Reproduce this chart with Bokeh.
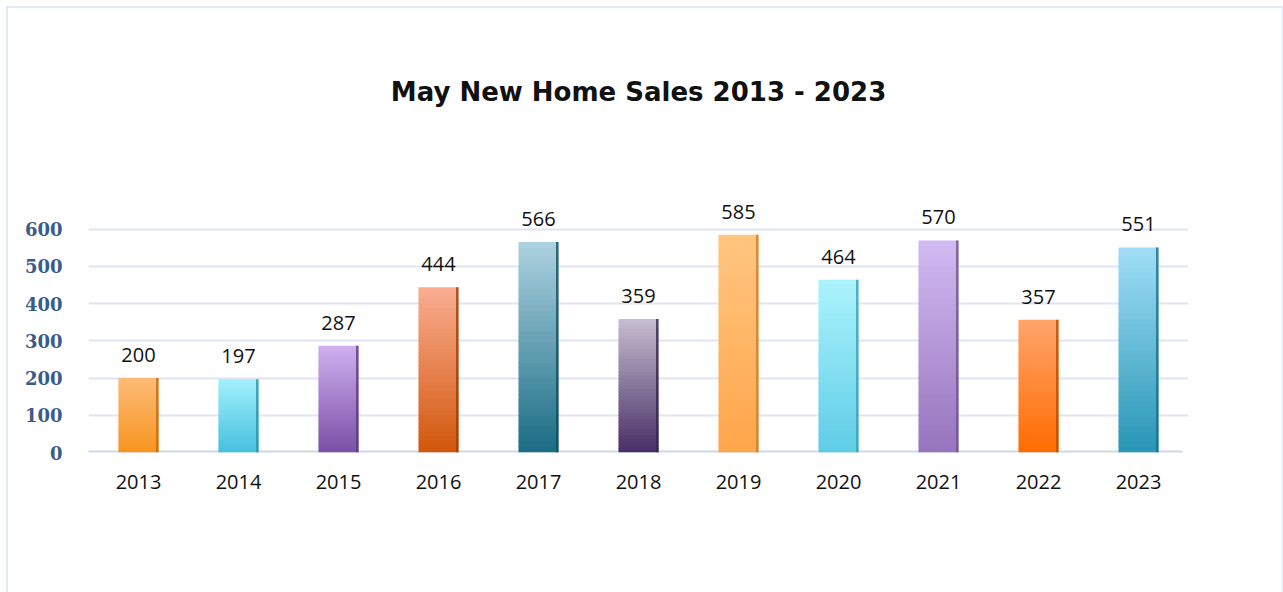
from bokeh.plotting import figure
from bokeh.embed import file_html
from bokeh.resources import INLINE
from bokeh.models import Range1d, FixedTicker, ColumnDataSource, Title
from bokeh.core.properties import value

# ---- data ----
years = ["2013", "2014", "2015", "2016", "2017", "2018", "2019", "2020", "2021", "2022", "2023"]
sales = [200, 197, 287, 444, 566, 359, 585, 464, 570, 357, 551]
y_ticks = [0, 100, 200, 300, 400, 500, 600]
title_text = "May New Home Sales 2013 - 2023"

# gradient colours per bar (top, bottom, right edge)
top_colors = ["#fdbb78", "#a2f0fc", "#cfb0f0", "#faad92", "#aed2e0", "#c6bed0",
              "#ffc580", "#acf3fd", "#d2baf2", "#ffa46c", "#a0def6"]
bottom_colors = ["#f8951f", "#46c0de", "#7a4fa6", "#d2570c", "#1a6c84", "#472f66",
                 "#ffa64a", "#5ecce6", "#9674bd", "#ff6c00", "#2896b6"]
edge_colors = ["#c06a10", "#2f8fa8", "#5a3a80", "#9a3e08", "#124e60", "#35244c",
               "#c7802e", "#3f9db4", "#6e548e", "#b84e00", "#1d6d86"]

def hex2rgb(h):
    h = h.lstrip("#")
    return tuple(int(h[i:i + 2], 16) for i in (0, 2, 4))

def mix(c1, c2, t):
    a, b = hex2rgb(c1), hex2rgb(c2)
    return "#%02x%02x%02x" % tuple(int(round(a[k] + (b[k] - a[k]) * t)) for k in range(3))

W, H = 1274, 584
p = figure(width=W, height=H, output_backend="svg", toolbar_location=None,
           x_range=Range1d(-0.5, len(years) - 0.5), y_range=Range1d(0, 680),
           min_border_left=80, min_border_right=W - 80 - 1100, min_border_top=191,
           min_border_bottom=H - 444)
p.styles = {"margin-left": "8px", "margin-top": "8px", "outline": "2px solid #e2eaf3"}
p.outline_line_color = None
p.background_fill_color = "white"
p.border_fill_color = "white"

# real title (outermost) and a blank spacer between it and the frame
p.title.text = title_text
p.title.align = "center"
p.title.standoff = 10
p.title.text_font = "DejaVu Sans"
p.title.text_font_size = "26px"
p.title.text_font_style = "bold"
p.title.text_color = "#111111"
spacer = Title(text=" ", text_font_size="10px", standoff=75)
p.add_layout(spacer, "above")

# grid
p.xgrid.grid_line_color = None
p.ygrid.ticker = FixedTicker(ticks=y_ticks)
p.ygrid.grid_line_color = "#dde6f2"
p.ygrid.grid_line_width = 2

# baseline
p.line(x=[-0.53, len(years) - 0.56], y=[0, 0], line_color="#ccd9ea", line_width=4)

# bars as gradient slices
N = 40
bw = 0.4
lefts, rights, bots, tops, cols = [], [], [], [], []
for i, v in enumerate(sales):
    for k in range(N):
        y0 = v * k / N
        y1 = v * (k + 1) / N
        t = (k + 0.5) / N
        lefts.append(i - bw / 2)
        rights.append(i + bw / 2)
        bots.append(y0)
        tops.append(y1 + (2.5 if k < N - 1 else 0))
        cols.append(mix(bottom_colors[i], top_colors[i], t))
p.quad(left=lefts, right=rights, bottom=bots, top=tops, fill_color=cols, line_color=None)

# right dark edge
edge_w = 0.025
p.quad(left=[i + bw / 2 - edge_w for i in range(len(years))],
       right=[i + bw / 2 for i in range(len(years))],
       bottom=[0] * len(years), top=sales, fill_color=edge_colors, line_color=None, fill_alpha=0.8)

# value labels
src = ColumnDataSource(dict(x=list(range(len(years))), y=sales, t=[str(s) for s in sales]))
p.text(x="x", y="y", text="t", source=src, text_align="center", text_baseline="bottom",
       y_offset=-16, text_font=value("Open Sans"), text_font_size="20px", text_color="#111111")

# axes
p.xaxis.ticker = FixedTicker(ticks=list(range(len(years))))
p.xaxis.major_label_overrides = {i: y for i, y in enumerate(years)}
p.xaxis.axis_line_color = None
p.xaxis.major_tick_line_color = None
p.xaxis.minor_tick_line_color = None
p.xaxis.major_label_standoff = 16
p.xaxis.major_label_text_font = "Open Sans"
p.xaxis.major_label_text_font_size = "20px"
p.xaxis.major_label_text_color = "#111111"

p.yaxis.ticker = FixedTicker(ticks=y_ticks)
p.yaxis.axis_line_color = None
p.yaxis.major_tick_line_color = None
p.yaxis.minor_tick_line_color = None
p.yaxis.major_label_standoff = 20
p.yaxis.major_label_text_font = "DejaVu Serif"
p.yaxis.major_label_text_font_size = "18px"
p.yaxis.major_label_text_font_style = "bold"
p.yaxis.major_label_text_color = "#3b5b88"

open("out.html", "w").write(file_html(p, INLINE))
